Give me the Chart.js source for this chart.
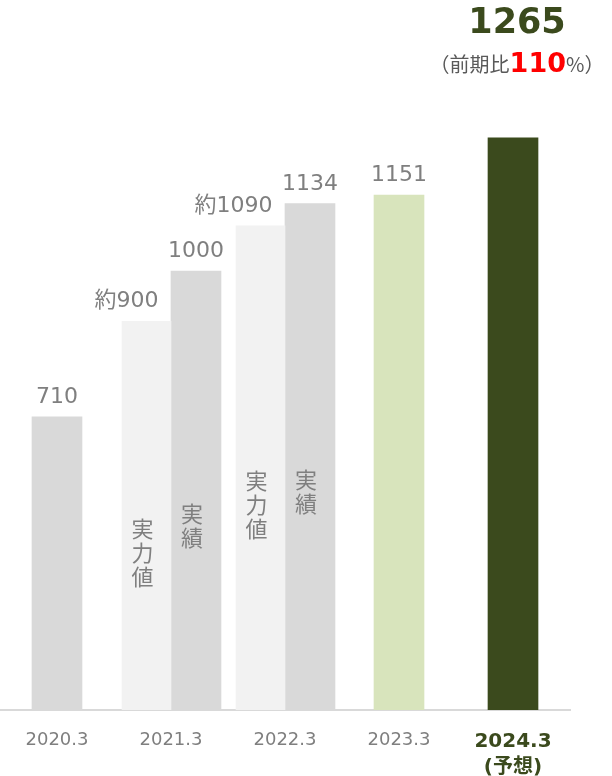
<!DOCTYPE html>
<html>
<head>
<meta charset="utf-8">
<script src="https://cdn.jsdelivr.net/npm/chart.js@4"></script>
<style>
  body { margin: 0; background: #fff; }
  canvas { display: block; }
</style>
</head>
<body>
<canvas id="myChart1" width="612" height="776"></canvas>
<script>
// 決算期
const categories = ['2020.3', '2021.3', '2022.3', '2023.3', '2024.3'];
const forecastNote = '(予想)';
// 実力値（約）
const estimateValues = [null, 900, 1090, null, null];
// 実績 / 予想
const actualValues = [710, 1000, 1134, 1151, 1265];
const actualColors = ['#d9d9d9', '#d9d9d9', '#d9d9d9', '#d8e4bc', '#3b4a1d'];
const yoyPercent = 110;

const grey = '#7f7f7f';
const green = '#3b4a1d';
const latin = '"DejaVu Sans", "Noto Sans CJK JP", sans-serif';
const cjk = '"Noto Sans CJK JP", "DejaVu Sans", sans-serif';

function verticalWord(ctx, word, x, yMid) {
    const step = 24;
    const chars = Array.from(word);
    let y = yMid - (chars.length - 1) * step / 2;
    ctx.font = '22px ' + cjk;
    ctx.fillStyle = grey;
    ctx.textAlign = 'center';
    ctx.textBaseline = 'middle';
    chars.forEach(c => { ctx.fillText(c, x, y); y += step; });
}

const barNotes = {
    id: 'barNotes',
    afterDatasetsDraw(chart) {
        const ctx = chart.ctx;
        const est = chart.getDatasetMeta(0).data;
        const act = chart.getDatasetMeta(1).data;
        ctx.save();
        ctx.textBaseline = 'alphabetic';
        ctx.fillStyle = grey;
        ctx.font = '22px ' + latin;
        estimateValues.forEach((v, i) => {
            if (v === null) return;
            const b = est[i];
            ctx.textAlign = 'right';
            ctx.fillText('約' + v, b.x + 12, b.y - 14);
            verticalWord(ctx, '実力値', b.x - 4, (b.y + b.base) / 2 + 5);
            ctx.font = '22px ' + latin;
            ctx.fillStyle = grey;
            ctx.textBaseline = 'alphabetic';
        });
        actualValues.forEach((v, i) => {
            const b = act[i];
            if (i === actualValues.length - 1) return;
            ctx.textAlign = 'center';
            ctx.fillText(String(v), b.x, b.y - 14);
            if (estimateValues[i] !== null) {
                verticalWord(ctx, '実績', b.x - 4, (b.y + b.base) / 2 + 3);
                ctx.font = '22px ' + latin;
                ctx.fillStyle = grey;
                ctx.textBaseline = 'alphabetic';
            }
        });

        // 予想の見出し
        const last = act[act.length - 1];
        const cx = last.x + 4;
        ctx.textAlign = 'center';
        ctx.textBaseline = 'middle';
        ctx.fillStyle = green;
        ctx.font = 'bold 35px ' + latin;
        ctx.fillText(String(actualValues[actualValues.length - 1]), cx, 24);

        const runs = [
            { t: '（前期比', f: '20px ' + cjk, c: '#595959' },
            { t: String(yoyPercent), f: 'bold 27px ' + latin, c: '#ff0000' },
            { t: '%）', f: '20px ' + cjk, c: '#595959' }
        ];
        let total = 0;
        runs.forEach(r => { ctx.font = r.f; r.w = ctx.measureText(r.t).width; total += r.w; });
        let x = cx - total / 2;
        ctx.textAlign = 'left';
        ctx.textBaseline = 'alphabetic';
        runs.forEach(r => {
            ctx.font = r.f;
            ctx.fillStyle = r.c;
            ctx.fillText(r.t, x, 72);
            x += r.w;
        });
        ctx.restore();
    }
};

const myChart1 = new Chart(document.getElementById('myChart1'), {
    type: 'bar',
    data: {
        labels: categories.map((c, i) => i === categories.length - 1 ? [c, forecastNote] : c),
        datasets: [{
            label: '実力値',
            data: estimateValues,
            backgroundColor: '#f2f2f2',
            barThickness: 49,
            skipNull: true
        }, {
            label: '実績',
            data: actualValues,
            backgroundColor: actualColors,
            barThickness: 50,
            skipNull: true
        }]
    },
    options: {
        responsive: false,
        animation: false,
        layout: { padding: { top: 100, left: 0, right: 42, bottom: 0 } },
        plugins: {
            legend: { display: false },
            tooltip: { enabled: false }
        },
        scales: {
            x: {
                grid: { display: false },
                border: { color: '#d9d9d9', width: 2 },
                ticks: {
                    padding: 11,
                    maxRotation: 0,
                    autoSkip: false,
                    color: ctx => ctx.index === categories.length - 1 ? green : grey,
                    font: ctx => ctx.index === categories.length - 1
                        ? { family: latin, size: 20, weight: 'bold', lineHeight: 1.3 }
                        : { family: latin, size: 18, lineHeight: 1.3 }
                },
                afterFit: scale => { scale.height = 66; }
            },
            y: {
                display: false,
                min: 127,
                max: 1340
            }
        }
    },
    plugins: [barNotes]
});
</script>
</body>
</html>
